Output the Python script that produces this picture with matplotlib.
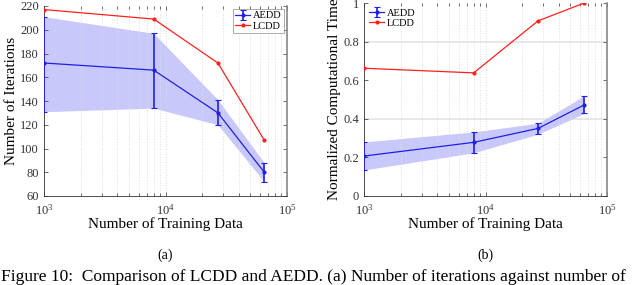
import numpy as np
import matplotlib.pyplot as plt
from matplotlib.ticker import LogLocator, NullFormatter

plt.rcParams['font.family'] = ['Liberation Serif', 'DejaVu Serif']
plt.rcParams['mathtext.fontset'] = 'stix'

train_sizes = [1000, 8000, 27000, 65000]

# (a) number of iterations
aedd_iter = [172, 166, 130, 80]
aedd_iter_lo = [131, 134, 120, 72]
aedd_iter_hi = [211, 197, 141, 88]
lcdd_iter = [217, 209, 172, 107]

# (b) normalized computational time
aedd_time = [0.207, 0.278, 0.350, 0.472]
aedd_time_lo = [0.135, 0.224, 0.320, 0.428]
aedd_time_hi = [0.280, 0.332, 0.377, 0.519]
lcdd_time = [0.662, 0.638, 0.907, 1.0]

caption = "Figure 10:  Comparison of LCDD and AEDD. (a) Number of iterations against number of"

W, H = 640, 285
fig = plt.figure(figsize=(W / 100, H / 100), dpi=100)


def px_axes(x0, x1, y0, y1):
    return fig.add_axes([x0 / W, 1 - y1 / H, (x1 - x0) / W, (y1 - y0) / H])


def style(ax):
    ax.set_xscale('log')
    ax.set_xlim(1e3, 1e5)
    ax.xaxis.set_minor_locator(LogLocator(base=10, subs=np.arange(2, 10)))
    ax.xaxis.set_minor_formatter(NullFormatter())
    ax.grid(True, which='both', axis='x', color='#dddddd', linestyle=':', linewidth=0.7)
    ax.tick_params(which='both', direction='in', top=True, right=True,
                   labelsize=9, colors='#333333', width=0.5)
    ax.tick_params(which='major', length=3)
    ax.tick_params(which='minor', length=2)
    ax.tick_params(axis='x', pad=5)
    for s in ['left', 'bottom']:
        ax.spines[s].set_color('#333333')
        ax.spines[s].set_linewidth(0.6)
    ax.spines['right'].set_color('#888888')
    ax.spines['right'].set_linewidth(1.2)
    ax.spines['top'].set_visible(False)
    ax.set_xlabel('Number of Training Data', fontsize=11, labelpad=0)


def draw(ax, mean, lo, hi, lcdd):
    ax.fill_between(train_sizes, lo, hi, color='#c8c8fa', linewidth=0, zorder=1)
    err = [np.array(mean) - np.array(lo), np.array(hi) - np.array(mean)]
    ax.errorbar(train_sizes, mean, yerr=err, color='#2020e0', marker='.', markersize=4,
                linewidth=0.9, elinewidth=1.2, capsize=2, capthick=0.8, label='AEDD', zorder=3)
    ax.plot(train_sizes, lcdd, color='#ff2020', marker='.', markersize=4,
            linewidth=0.9, label='LCDD', zorder=3)


def add_legend(ax, **kw):
    h, l = ax.get_legend_handles_labels()
    order = [l.index('AEDD'), l.index('LCDD')]
    return ax.legend([h[i] for i in order], [l[i] for i in order], fontsize=7.5,
                     handlelength=1.4, handletextpad=0.3, borderpad=0.2,
                     labelspacing=0.1, borderaxespad=0.3, **kw)


# left panel
ax1 = px_axes(44, 287, 6, 196)
style(ax1)
draw(ax1, aedd_iter, aedd_iter_lo, aedd_iter_hi, lcdd_iter)
ax1.set_ylim(60, 220)
ax1.set_yticks(np.arange(60, 221, 20))
ax1.set_ylabel('Number of Iterations', fontsize=11, labelpad=2)
leg1 = add_legend(ax1, loc='upper right', fancybox=False)
leg1.get_frame().set_edgecolor('#888888')
leg1.get_frame().set_linewidth(0.6)

# right panel
ax2 = px_axes(364, 607, 3, 196)
style(ax2)
for yv in [0.4, 0.8]:
    ax2.axhline(yv, color='#e4e4e4', linewidth=1.2, zorder=0)
draw(ax2, aedd_time, aedd_time_lo, aedd_time_hi, lcdd_time)
ax2.set_ylim(0, 1)
ax2.set_yticks([0, 0.2, 0.4, 0.6, 0.8, 1])
ax2.set_yticklabels(['0', '0.2', '0.4', '0.6', '0.8', '1'])
ax2.set_ylabel('Normalized Computational Time', fontsize=11, labelpad=2)
add_legend(ax2, loc='upper left', frameon=False)

fig.text(165 / W, 1 - 255 / H, '(a)', ha='center', va='center', fontsize=10)
fig.text(485 / W, 1 - 255 / H, '(b)', ha='center', va='center', fontsize=10)
fig.text(1 / W, 0.0, caption, ha='left', va='bottom', fontsize=12.5)

fig.savefig('out.png', dpi=100)
